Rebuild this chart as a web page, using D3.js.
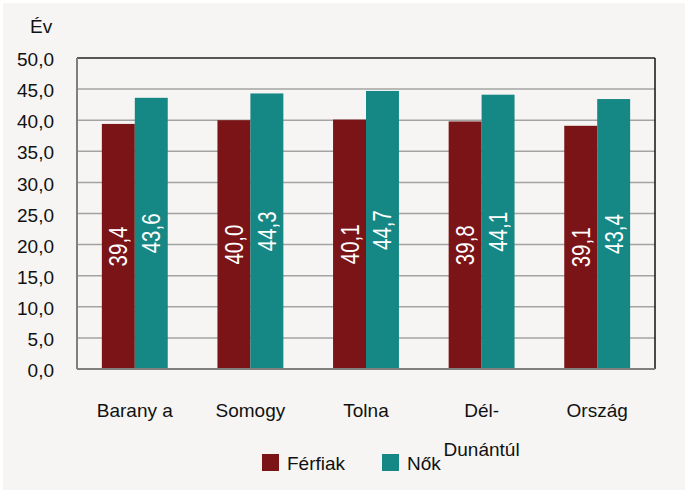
<!DOCTYPE html>
<html>
<head>
<meta charset="utf-8">
<script src="https://cdn.jsdelivr.net/npm/d3@7"></script>
<style>
  html, body { margin: 0; padding: 0; background: #fff; }
  svg { display: block; font-family: "Liberation Sans", Arial, sans-serif; }
</style>
</head>
<body>
<div id="chart"></div>
<script>
const categories = [["Barany a"], ["Somogy"], ["Tolna"], ["Dél-", "Dunántúl"], ["Ország"]];
const ferfiak = [39.4, 40.0, 40.1, 39.8, 39.1];
const nok = [43.6, 44.3, 44.7, 44.1, 43.4];
const seriesNames = ["Férfiak", "Nők"];
const yTicks = [0, 5, 10, 15, 20, 25, 30, 35, 40, 45, 50];

const W = 685, H = 490;
const margin = { top: 58, right: 30, bottom: 121, left: 77 };
const width = W - margin.left - margin.right,
      height = H - margin.top - margin.bottom;
const colors = ["#7b1416", "#158784"];

const svg = d3.select("#chart").append("svg")
    .attr("width", W)
    .attr("height", H);

svg.append("rect")
    .attr("x", 3).attr("y", 3)
    .attr("width", W - 3).attr("height", H - 3)
    .attr("fill", "#f6f5f3");

const chart = svg.append("g")
    .attr("transform", `translate(${margin.left},${margin.top})`);

const keys = categories.map(c => c.join(" "));
const x = d3.scaleBand().domain(keys).range([0, width]).paddingInner(0).paddingOuter(0);
const y = d3.scaleLinear().domain([0, 50]).range([height, 0]);
const barW = x.bandwidth() * 0.285;
const x1 = d3.scaleBand().domain(seriesNames).range([(x.bandwidth() - 2 * barW) / 2, (x.bandwidth() + 2 * barW) / 2]);

// gridlines
chart.selectAll(".grid")
    .data(yTicks.filter(t => t > 0 && t < 50))
    .enter().append("line")
    .attr("x1", 0).attr("x2", width)
    .attr("y1", d => y(d)).attr("y2", d => y(d))
    .attr("stroke", "#a3a3a3")
    .attr("stroke-width", 1.5);

// frame
chart.append("line").attr("x1", 0).attr("x2", width).attr("y1", 0).attr("y2", 0)
    .attr("stroke", "#222").attr("stroke-width", 1.5);
chart.append("line").attr("x1", width).attr("x2", width).attr("y1", 0).attr("y2", height)
    .attr("stroke", "#111").attr("stroke-width", 1.5);

const data = keys.map((k, i) => ({ key: k, values: [ferfiak[i], nok[i]] }));

const groups = chart.selectAll(".grp")
    .data(data)
    .enter().append("g")
    .attr("transform", d => `translate(${x(d.key)},0)`);

groups.selectAll("rect")
    .data(d => d.values.map((v, j) => ({ name: seriesNames[j], v: v, j: j })))
    .enter().append("rect")
    .attr("x", d => x1(d.name))
    .attr("y", d => y(d.v))
    .attr("width", x1.bandwidth())
    .attr("height", d => height - y(d.v))
    .attr("fill", d => colors[d.j]);

// value labels: narrow look by squeezing along the text direction
groups.selectAll(".lbl")
    .data(d => d.values.map((v, j) => ({ name: seriesNames[j], v: v, j: j })))
    .enter().append("text")
    .attr("class", "lbl")
    .attr("transform", d => `translate(${x1(d.name) + x1.bandwidth() / 2},${(y(d.v) + height) / 2}) rotate(-90) scale(0.82,1)`)
    .attr("text-anchor", "middle")
    .attr("dy", "0.36em")
    .attr("fill", "#fff")
    .style("font-size", "25px")
    .text(d => d.v.toFixed(1).replace(".", ","));

// axes lines (left and bottom, gray)
chart.append("line").attr("x1", 0).attr("x2", 0).attr("y1", 0).attr("y2", height)
    .attr("stroke", "#7f7f7f").attr("stroke-width", 2);
chart.append("line").attr("x1", 0).attr("x2", width).attr("y1", height).attr("y2", height)
    .attr("stroke", "#7f7f7f").attr("stroke-width", 2);

// y axis labels
const yAxis = chart.append("g")
    .call(d3.axisLeft(y).tickValues(yTicks).tickSize(0).tickPadding(23)
        .tickFormat(d => d.toFixed(1).replace(".", ",")));
yAxis.select(".domain").remove();
yAxis.selectAll("text")
    .attr("fill", "#111")
    .style("font-family", "'Liberation Sans', Arial, sans-serif")
    .style("font-size", "19px")
    .attr("dy", "0.4em");

svg.append("text")
    .attr("x", 30).attr("y", 33)
    .attr("fill", "#111")
    .style("font-size", "19px")
    .text("Év");

// x axis labels
const xLab = chart.selectAll(".xl")
    .data(categories)
    .enter().append("text")
    .attr("x", (d, i) => x(keys[i]) + x.bandwidth() / 2)
    .attr("y", height + 48)
    .attr("text-anchor", "middle")
    .attr("fill", "#111")
    .style("font-size", "19px");
xLab.selectAll("tspan")
    .data(d => d)
    .enter().append("tspan")
    .attr("x", function () { return d3.select(this.parentNode).attr("x"); })
    .attr("dy", (d, i) => i === 0 ? 0 : 39)
    .text(d => d);

// legend
const legend = svg.append("g").attr("transform", "translate(262,454)");
const legX = [0, 120];
seriesNames.forEach((n, i) => {
    legend.append("rect")
        .attr("x", legX[i]).attr("y", 0)
        .attr("width", 17).attr("height", 17)
        .attr("fill", colors[i]);
    legend.append("text")
        .attr("x", legX[i] + 25).attr("y", 16)
        .attr("fill", "#111")
        .style("font-size", "19px")
        .text(n);
});
</script>
</body>
</html>
